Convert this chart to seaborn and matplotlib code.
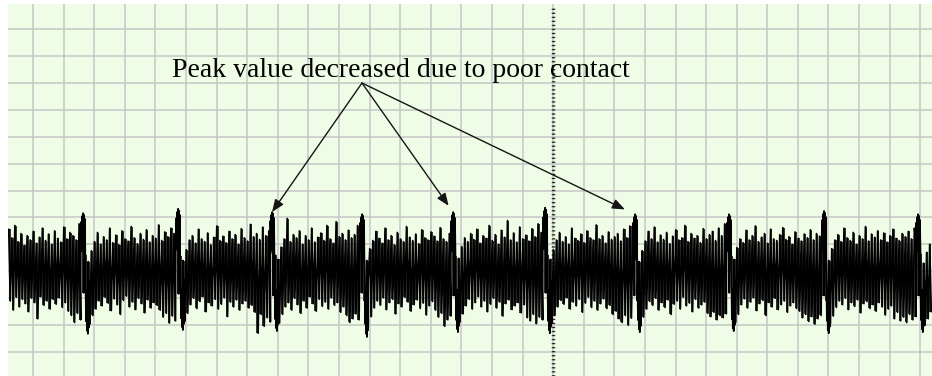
import numpy as np
import pandas as pd
import matplotlib
matplotlib.use("Agg")
import matplotlib.pyplot as plt
from matplotlib.ticker import MultipleLocator
import seaborn as sns

# ---------------- data ----------------
# QRS complexes: time of R peak (ms), R amplitude (mV), S trough (mV)
beat_time_ms = [490, 1111, 1726, 2314, 2909, 3510, 4098, 4712, 5333, 5948]
r_peak_mv = [1.08, 1.16, 1.10, 1.06, 1.10, 1.18, 1.06, 1.06, 1.12, 1.06]
s_trough_mv = [-1.16, -1.09, -1.11, -1.22, -1.13, -1.15, -1.13, -1.11, -1.15, -1.13]

# QRS sample template: offset from R (ms) and fraction of R (+) or S (-)
qrs_offset_ms = [-14, -11, -8, -5, -2, 1, 4, 7, 10, 13, 17, 20, 23, 26, 29, 32, 35, 38, 41]
qrs_shape = [0.55, 0.85, 0.35, 0.95, 0.45, 1.00, 0.30, 0.97, 0.20, 0.90,
             -0.20, -0.80, -0.30, -0.95, -0.40, -1.00, -0.35, -0.90, -0.15]

# noisy baseline (contact noise): per 20 ms column, upper and lower excursion (mV)
sample_step_ms = 20
noise_hi = [
    0.78, 0.62, 0.85, 0.55, 0.70, 0.48, 0.66, 0.58, 0.74, 0.52, 0.63, 0.80, 0.57, 0.69, 0.50, 0.75, 0.61, 0.54, 0.82, 0.60, 0.72, 0.66, 0.58, 0.88, 0.45, 0.30,
    0.18, 0.38, 0.55, 0.72, 0.50, 0.64, 0.58, 0.80, 0.53, 0.67, 0.49, 0.75, 0.60, 0.56, 0.83, 0.62, 0.51, 0.70, 0.59, 0.77, 0.54, 0.66, 0.61, 0.86, 0.57, 0.73, 0.64, 0.80, 0.70, 0.42, 0.28,
    0.20, 0.40, 0.58, 0.66, 0.52, 0.78, 0.60, 0.55, 0.71, 0.49, 0.63, 0.84, 0.57, 0.65, 0.53, 0.74, 0.60, 0.68, 0.50, 0.79, 0.62, 0.56, 0.87, 0.64, 0.70, 0.59, 0.82, 0.66, 0.75, 0.40, 0.30,
    0.22, 0.45, 0.60, 0.98, 0.55, 0.68, 0.62, 0.75, 0.50, 0.66, 0.58, 0.80, 0.54, 0.63, 0.71, 0.57, 0.85, 0.60, 0.52, 0.92, 0.64, 0.70, 0.58, 0.76, 0.62, 0.68, 0.85, 0.45, 0.30,
    0.20, 0.42, 0.57, 0.74, 0.61, 0.52, 0.80, 0.58, 0.66, 0.49, 0.72, 0.60, 0.55, 0.83, 0.63, 0.57, 0.69, 0.51, 0.77, 0.62, 0.58, 0.73, 0.65, 0.56, 0.81, 0.60, 0.55, 0.70, 0.40, 0.28,
    0.24, 0.46, 0.62, 0.55, 0.70, 0.59, 0.78, 0.52, 0.66, 0.61, 0.85, 0.57, 0.68, 0.50, 0.76, 0.63, 0.94, 0.58, 0.71, 0.54, 0.82, 0.60, 0.67, 0.56, 0.79, 0.64, 0.88, 0.72, 0.42, 0.30,
    0.22, 0.40, 0.58, 0.72, 0.55, 0.64, 0.50, 0.80, 0.61, 0.57, 0.69, 0.53, 0.75, 0.62, 0.58, 0.86, 0.60, 0.66, 0.52, 0.73, 0.59, 0.64, 0.70, 0.56, 0.78, 0.62, 0.84, 0.45, 0.30,
    0.18, 0.38, 0.56, 0.74, 0.60, 0.82, 0.54, 0.67, 0.59, 0.72, 0.51, 0.65, 0.77, 0.58, 0.62, 0.85, 0.55, 0.70, 0.61, 0.66, 0.53, 0.79, 0.60, 0.68, 0.74, 0.57, 0.80, 0.66, 0.88, 0.42, 0.28,
    0.22, 0.44, 0.60, 0.53, 0.76, 0.58, 0.66, 0.84, 0.55, 0.63, 0.70, 0.52, 0.78, 0.60, 0.57, 0.68, 0.81, 0.59, 0.64, 0.50, 0.73, 0.61, 0.56, 0.69, 0.62, 0.77, 0.58, 0.70, 0.65, 0.40, 0.30,
    0.20, 0.42, 0.58, 0.68, 0.55, 0.80, 0.62, 0.57, 0.72, 0.50, 0.66, 0.60, 0.83, 0.56, 0.69, 0.63, 0.75, 0.58, 0.71, 0.54, 0.66, 0.78, 0.61, 0.57, 0.70, 0.64, 0.74, 0.60, 0.80, 0.45, 0.32,
    0.15, 0.35, 0.50,
]
noise_lo = [
    -0.55, -0.72, -0.48, -0.66, -0.52, -0.60, -0.75, -0.50, -0.58, -0.88, -0.47, -0.63, -0.55, -0.70, -0.52, -0.61, -0.49, -0.67, -0.58, -0.74, -0.82, -0.95, -0.78, -0.90, -0.40, -0.55,
    -0.98, -0.82, -0.70, -0.55, -0.64, -0.48, -0.59, -0.73, -0.51, -0.62, -0.80, -0.54, -0.46, -0.66, -0.57, -0.71, -0.50, -0.60, -0.77, -0.53, -0.68, -0.58, -0.63, -0.72, -0.85, -0.78, -0.96, -0.83, -0.92, -0.42, -0.50,
    -0.93, -0.78, -0.62, -0.50, -0.69, -0.56, -0.47, -0.75, -0.58, -0.64, -0.52, -0.70, -0.61, -0.49, -0.84, -0.57, -0.66, -0.53, -0.72, -0.60, -0.55, -0.68, -0.63, -0.76, -1.15, -0.80, -1.02, -0.86, -0.94, -0.45, -0.50,
    -0.96, -0.80, -0.66, -0.58, -0.72, -0.50, -0.62, -0.78, -0.55, -0.68, -0.47, -0.60, -0.74, -0.52, -0.65, -0.57, -0.70, -0.49, -0.63, -0.58, -0.76, -0.66, -0.82, -0.95, -0.88, -0.79, -0.90, -0.40, -0.55,
    -1.00, -0.84, -0.68, -0.55, -0.63, -0.49, -0.71, -0.58, -0.52, -0.79, -0.60, -0.66, -0.48, -0.57, -0.74, -0.62, -0.53, -0.69, -0.59, -0.81, -0.64, -0.56, -0.72, -0.85, -0.78, -1.02, -0.90, -0.83, -0.45, -0.50,
    -0.94, -0.79, -0.64, -0.52, -0.70, -0.58, -0.47, -0.66, -0.55, -0.75, -0.61, -0.50, -0.68, -0.57, -0.83, -0.60, -0.53, -0.71, -0.64, -0.58, -0.77, -0.62, -0.86, -0.92, -0.80, -0.97, -0.85, -0.90, -0.40, -0.52,
    -0.97, -0.82, -0.66, -0.54, -0.61, -0.49, -0.70, -0.57, -0.64, -0.52, -0.76, -0.59, -0.48, -0.67, -0.55, -0.72, -0.60, -0.51, -0.69, -0.63, -0.80, -0.74, -0.88, -0.95, -0.82, -1.00, -0.87, -0.45, -0.55,
    -1.02, -0.85, -0.70, -0.56, -0.63, -0.50, -0.72, -0.58, -0.67, -0.53, -0.80, -0.61, -0.55, -0.70, -0.48, -0.64, -0.59, -0.75, -0.52, -0.68, -0.62, -0.57, -0.78, -0.84, -0.76, -0.90, -0.82, -0.86, -0.79, -0.40, -0.50,
    -0.95, -0.80, -0.62, -0.51, -0.68, -0.57, -0.49, -0.73, -0.60, -0.54, -0.82, -0.58, -0.66, -0.50, -0.71, -0.62, -0.55, -0.76, -0.64, -0.58, -0.69, -0.74, -0.86, -0.80, -0.93, -0.84, -0.98, -0.88, -0.82, -0.45, -0.55,
    -0.98, -0.83, -0.67, -0.55, -0.62, -0.50, -0.71, -0.58, -0.65, -0.53, -0.77, -0.60, -0.56, -0.69, -0.62, -0.74, -0.58, -0.66, -0.81, -0.70, -0.64, -0.88, -0.76, -0.92, -0.85, -0.95, -0.80, -0.90, -0.84, -0.45, -0.55,
    -1.00, -0.88, -0.75,
]

cursor_time_ms = 3562               # oscilloscope centre cursor
flagged_beats = [2, 4, 6]           # beats pointed at by the annotation
annotation_text = "Peak value decreased due to poor contact"

# ---------------- build the trace ----------------
hi = np.asarray(noise_hi, dtype=float)
lo = np.asarray(noise_lo, dtype=float)
n = min(len(hi), len(lo))
col_t = np.arange(n) * sample_step_ms + sample_step_ms / 2
t_noise = np.column_stack([col_t - sample_step_ms / 4, col_t + sample_step_ms / 4]).ravel()
v_noise = np.column_stack([hi[:n], lo[:n]]).ravel()

qrs_t, qrs_v = [], []
for tb, r, s in zip(beat_time_ms, r_peak_mv, s_trough_mv):
    for off, rel in zip(qrs_offset_ms, qrs_shape):
        qrs_t.append(tb + off)
        qrs_v.append(rel * r if rel > 0 else -rel * s)

t_all = np.concatenate([t_noise, np.asarray(qrs_t, float)])
v_all = np.concatenate([v_noise, np.asarray(qrs_v, float)])
order = np.argsort(t_all, kind="stable")
df = pd.DataFrame({"time_ms": t_all[order], "mV": v_all[order]})

# ---------------- figure ----------------
sns.set_style("white")
plt.rcParams["lines.scale_dashes"] = False
plt.rcParams["font.family"] = ["Liberation Serif", "DejaVu Serif"]

fig = plt.figure(figsize=(9.32, 3.76), dpi=100)
fig.patch.set_facecolor("white")
ax = fig.add_axes([8 / 932, 0, 924 / 932, 372 / 376])
ax.set_facecolor("#effce6")

# dense part of the noisy band: each sample column drawn as a vertical stroke
ax.vlines(col_t, lo[:n], hi[:n], colors="#202020", linewidth=1.3, zorder=3)
sns.lineplot(data=df, x="time_ms", y="mV", sort=False, estimator=None,
             color="black", linewidth=1.25, ax=ax, zorder=4)

ax.set_xlim(0, 6040)
ax.set_ylim(-1.945, 4.965)
ax.xaxis.set_major_locator(MultipleLocator(200, offset=163.4))
ax.yaxis.set_major_locator(MultipleLocator(0.5))
ax.grid(True, color="#c6c6c6", linewidth=1.1, zorder=0)
ax.set_axisbelow(True)
ax.tick_params(length=0, labelbottom=False, labelleft=False)
ax.set_xlabel("")
ax.set_ylabel("")
for sp in ax.spines.values():
    sp.set_visible(False)

# centre cursor (ruler-like dashed line)
ax.axvline(cursor_time_ms, ymin=0, ymax=1 - 1.5 / 372, color="#2b2b2b",
           linewidth=2.5, dashes=(0.95, 1.95), zorder=2)

# annotation
ax.text(0.1775, 0.8038, annotation_text, transform=ax.transAxes,
        ha="left", va="baseline", fontsize=20, color="black", zorder=5)
origin = (0.3831, 0.7876)
gaps_pt = [0.0, 5.5, 8.0]
for idx, gap in zip(flagged_beats, gaps_pt):
    ax.annotate("", xy=(beat_time_ms[idx], r_peak_mv[idx]), xycoords="data",
                xytext=origin, textcoords="axes fraction",
                arrowprops=dict(arrowstyle="-|>,head_length=0.75,head_width=0.3",
                                mutation_scale=10, color="#151515", lw=1.0,
                                shrinkA=0, shrinkB=gap),
                zorder=6)

fig.savefig("out.png", dpi=100, facecolor="white")
